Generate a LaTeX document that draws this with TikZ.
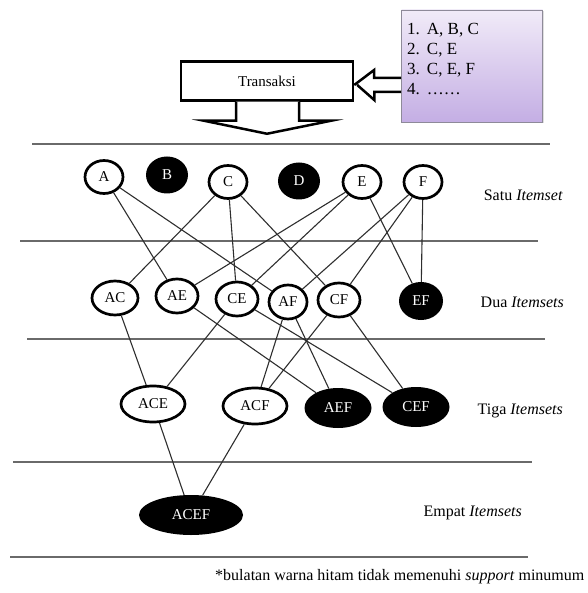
\documentclass[tikz,border=0pt]{standalone}
\usepackage{fontspec}
\setmainfont{Liberation Serif}
\usetikzlibrary{shapes.geometric,shadows}

\definecolor{rulegray}{HTML}{6A6A6A}
\definecolor{edgegray}{HTML}{2E2E2E}
\definecolor{lavtop}{HTML}{F1EBF8}
\definecolor{lavbot}{HTML}{C4AEE4}
\definecolor{lavframe}{HTML}{8E8A99}

\begin{document}
\begin{tikzpicture}[x=1pt,y=-1pt,
  every node/.style={font=\fontsize{15}{17}\selectfont},
  openset/.style={ellipse,draw=black,line width=2.7pt,fill=white,inner sep=0pt},
  closedset/.style={ellipse,fill=black,text=white,inner sep=0pt},
  lvone/.style={minimum width=38pt,minimum height=33pt},
  lvonefill/.style={minimum width=42pt,minimum height=37pt},
  lvtwo/.style={minimum width=42pt,minimum height=34pt},
  lvtwofill/.style={minimum width=44pt,minimum height=38pt},
  lvthree/.style={minimum width=64pt,minimum height=36pt},
  lvthreefill/.style={minimum width=67pt,minimum height=40pt},
  link/.style={draw=edgegray,line width=1.1pt},
  sepline/.style={draw=rulegray,line width=1.6pt},
  blockarrow/.style={draw=black,line width=2.5pt,fill=white,line join=miter},
  levellabel/.style={anchor=east,inner sep=0pt,font=\fontsize{16}{18}\selectfont}
]
\useasboundingbox (0,0) rectangle (587,593);

% --- transactions and input list ---
\node[draw=black,line width=2.5pt,fill=white,minimum width=172pt,minimum height=39pt,inner sep=0pt]
  (trans) at (267,81) {Transaksi};

\node[draw=lavframe,line width=0.8pt,top color=lavtop,bottom color=lavbot,
      minimum width=141pt,minimum height=112pt,inner sep=0pt,
      drop shadow={opacity=0.25,shadow xshift=1.5pt,shadow yshift=-1.5pt}]
  (list) at (472,66) {};
\node[anchor=north west,inner sep=0pt,align=left,font=\fontsize{17}{20}\selectfont]
  (listtext) at (407,20)
  {\begin{tabular}{@{}l@{\hspace{7pt}}l@{}}
   1. & A, B, C\\
   2. & C, E\\
   3. & C, E, F\\
   4. & ……
   \end{tabular}};

% hollow arrow from the list into the transaction box
\draw[blockarrow] (list.west |- 0,78) -- ++(-27,0) -- ++(0,-8) -- (trans.east |- 0,85) ++(3,0)
  -- ++(17,15) -- ++(0,-8) -- (list.west |- 0,92);
% hollow arrow pointing down from the transaction box
\draw[blockarrow] (trans.south) ++(-31,0) -- ++(0,19) -- ++(-32,0) -- ++(63,13)
  -- ++(64,-13) -- ++(-32,0) -- ++(0,-19);

% --- separating rules ---
\draw[sepline] (32,144) -- (550,144);
\draw[sepline] (20,241) -- (538,241);
\draw[sepline] (27,339) -- (545,339);
\draw[sepline] (13,462) -- (532,462);
\draw[sepline] (10,557) -- (528,557);

% --- one-itemsets ---
\node[openset,lvone] (A) at (104,177) {A};
\node[closedset,lvonefill] (B) at (167,175) {B};
\node[openset,lvone] (C) at (228,182) {C};
\node[closedset,lvonefill] (D) at (299,181) {D};
\node[openset,lvone] (E) at (362,182) {E};
\node[openset,lvone] (F) at (423,182) {F};

% --- two-itemsets ---
\node[openset,lvtwo,minimum width=46pt] (AC) at (115,298) {AC};
\node[openset,lvtwo] (AE) at (177,296) {AE};
\node[openset,lvtwo] (CE) at (237,299) {CE};
\node[openset,lvtwo,minimum width=38pt] (AF) at (288,302) {AF};
\node[openset,lvtwo] (CF) at (339,300) {CF};
\node[closedset,lvtwofill] (EF) at (421,301) {EF};

% --- three-itemsets ---
\node[openset,lvthree] (ACE) at (153,404) {ACE};
\node[openset,lvthree] (ACF) at (255,406) {ACF};
\node[closedset,lvthreefill] (AEF) at (338,408) {AEF};
\node[closedset,lvthreefill] (CEF) at (416,407) {CEF};

% --- four-itemset ---
\node[closedset,minimum width=104pt,minimum height=40pt] (ACEF) at (191,515) {ACEF};

% --- lattice links ---
\foreach \u/\v in {A/AE, A/AF, C/AC, C/CE, C/CF, E/AE, E/CE, E/EF, F/AF, F/CF, F/EF,
                   AC/ACE, CE/ACE, AF/ACF, CF/ACF, AE/AEF, AF/AEF, CE/CEF, CF/CEF,
                   ACE/ACEF, ACF/ACEF}
  \path[link] (\u) -- (\v);

% --- level labels ---
\node[levellabel] (l1) at (563,195) {Satu \textit{Itemset}};
\node[levellabel] (l2) at (564,302) {Dua \textit{Itemsets}};
\node[levellabel] (l3) at (563,411) {Tiga \textit{Itemsets}};
\node[levellabel] (l4) at (522,513) {Empat \textit{Itemsets}};

% --- footnote ---
\node[anchor=west,inner sep=0pt,font=\fontsize{16}{18}\selectfont] (note) at (215,577)
  {*bulatan warna hitam tidak memenuhi \textit{support} minumum};
\end{tikzpicture}
\end{document}
